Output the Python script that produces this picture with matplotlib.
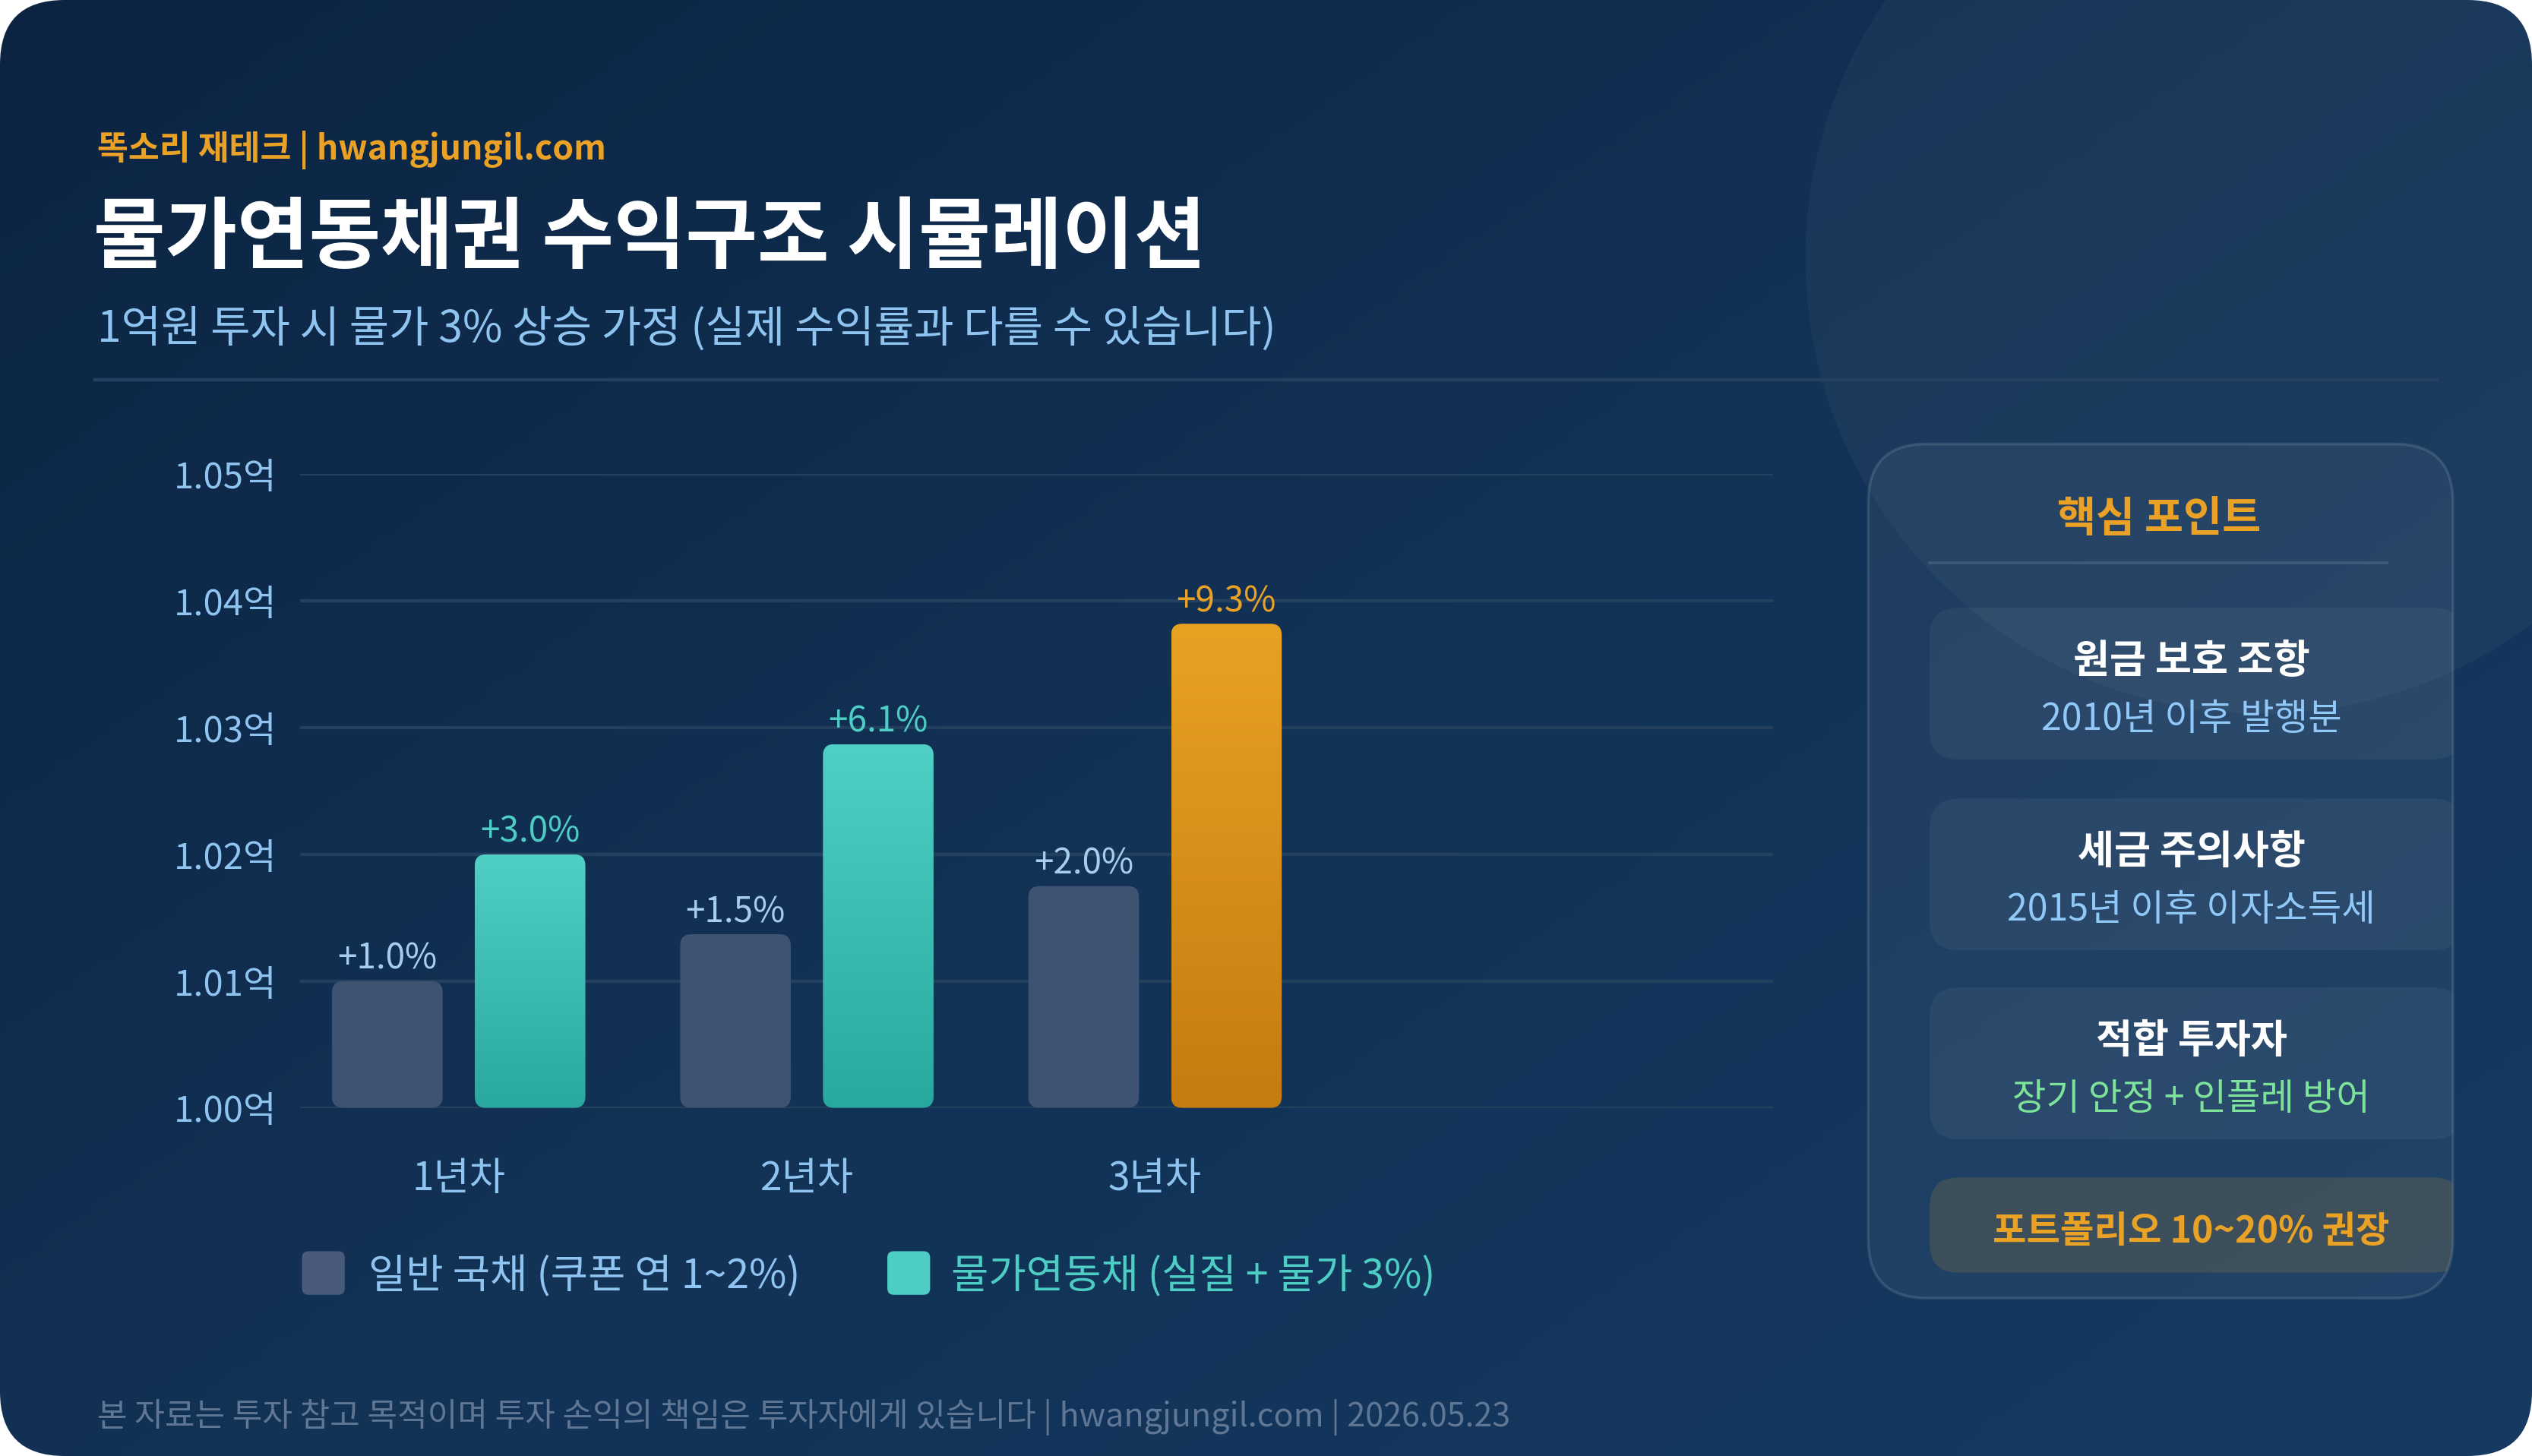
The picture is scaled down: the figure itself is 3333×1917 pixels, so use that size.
import matplotlib.pyplot as plt
import numpy as np
from matplotlib.patches import FancyBboxPatch, Circle
from matplotlib.colors import LinearSegmentedColormap

plt.rcParams['font.family'] = ['Noto Sans CJK KR', 'DejaVu Sans']

# ---- data ----
years = ['1년차', '2년차', '3년차']
normal_bond = [1.0100, 1.0137, 1.0175]
linked_bond = [1.0200, 1.0287, 1.0382]
normal_labels = ['+1.0%', '+1.5%', '+2.0%']
linked_labels = ['+3.0%', '+6.1%', '+9.3%']
yticks = [1.00, 1.01, 1.02, 1.03, 1.04, 1.05]
ytick_labels = ['1.00억', '1.01억', '1.02억', '1.03억', '1.04억', '1.05억']
legend_labels = ['일반 국채 (쿠폰 연 1~2%)', '물가연동채 (실질 + 물가 3%)']
point_titles = ['원금 보호 조항', '세금 주의사항', '적합 투자자']
point_subs = ['2010년 이후 발행분', '2015년 이후 이자소득세', '장기 안정 + 인플레 방어']
point_tip = '포트폴리오 10~20% 권장'

ORANGE = '#eaa226'
LIGHT = '#90c4f0'
TEAL = '#4ecdc4'
LW = 'light'

# layout units: 1568 wide "screen" pixels
W = 1568
H = W * 1917 / 3333

fig = plt.figure(figsize=(16.665, 9.585), dpi=200)
fig.patch.set_facecolor('white')
bg = fig.add_axes([0, 0, 1, 1])
bg.axis('off')

# card background with diagonal gradient
card = FancyBboxPatch((0, 0), W, H, boxstyle='round,pad=0,rounding_size=40',
                      facecolor='none', edgecolor='none')
bg.add_patch(card)
xx, yy = np.meshgrid(np.linspace(0, 1, 300), np.linspace(0, 1, 200))
grad = (xx * 0.55 + yy * 0.45)
bg_cmap = LinearSegmentedColormap.from_list('bg', ['#0c2442', '#123256', '#163a62'])
im = bg.imshow(grad, extent=[0, W, H, 0], cmap=bg_cmap, aspect='auto', zorder=0)
im.set_clip_path(card)

circ = Circle((1400, 160), 282, facecolor='white', alpha=0.035, edgecolor='none', zorder=1)
bg.add_patch(circ)
circ.set_clip_path(card)

bg.set_xlim(0, W)
bg.set_ylim(H, 0)

# header
bg.text(60, 93, '똑소리 재테크 | hwangjungil.com', fontsize=16, fontweight='bold',
        color=ORANGE, va='center', ha='left')
bg.text(58, 148, '물가연동채권 수익구조 시뮬레이션', fontsize=37, fontweight='bold',
        color='white', va='center', ha='left')
bg.text(60, 204, '1억원 투자 시 물가 3% 상승 가정 (실제 수익률과 다를 수 있습니다)',
        fontsize=20.5, fontweight=LW, color=LIGHT, va='center', ha='left')
bg.plot([59, 1509], [235.2, 235.2], color='#243f5f', lw=1.6, zorder=2)

# ---- bar chart ----
ax_left, ax_right, ax_top, ax_bot = 186, 1098, 293.7, 686.2
ax = fig.add_axes([ax_left / W, 1 - ax_bot / H, (ax_right - ax_left) / W, (ax_bot - ax_top) / H])
ax.set_facecolor('none')
xmin, xmax = -0.4548, 3.775
ax.set_xlim(xmin, xmax)
ax.set_ylim(1.0, 1.05)

x = np.arange(len(years))
bw = 0.3177
off = 0.205
base = 1.0
bars_n = ax.bar(x - off, np.array(normal_bond) - base, bottom=base, width=bw)
bars_l = ax.bar(x + off, np.array(linked_bond) - base, bottom=base, width=bw)
for r in list(bars_n) + list(bars_l):
    r.set_visible(False)

xupp = (xmax - xmin) / (ax_right - ax_left)
yupp = 0.05 / (ax_bot - ax_top)
asp = yupp / xupp
rad = 7 * xupp

teal_cmap = LinearSegmentedColormap.from_list('teal', ['#4fcfc5', '#28a89f'])
orng_cmap = LinearSegmentedColormap.from_list('orng', ['#e8a222', '#c47b10'])
vgrad = np.linspace(0, 1, 256).reshape(-1, 1)

for r, lbl in zip(bars_n, normal_labels):
    x0, y0, w, h = r.get_x(), r.get_y(), r.get_width(), r.get_height()
    p = FancyBboxPatch((x0, y0), w, h, boxstyle=f'round,pad=0,rounding_size={rad}',
                       mutation_aspect=asp, facecolor='#3e5272', edgecolor='none', zorder=3)
    ax.add_patch(p)
    ax.annotate(lbl, (x0 + w / 2, y0 + h), xytext=(0, 10.5), textcoords='offset points',
                ha='center', va='center', fontsize=16.5, fontweight=LW, color='#a6cdf0', zorder=4)

for i, (r, lbl) in enumerate(zip(bars_l, linked_labels)):
    x0, y0, w, h = r.get_x(), r.get_y(), r.get_width(), r.get_height()
    cm = orng_cmap if i == len(bars_l) - 1 else teal_cmap
    lc = ORANGE if i == len(bars_l) - 1 else TEAL
    p = FancyBboxPatch((x0, y0), w, h, boxstyle=f'round,pad=0,rounding_size={rad}',
                       mutation_aspect=asp, facecolor='none', edgecolor='none', zorder=3)
    ax.add_patch(p)
    gi = ax.imshow(vgrad, extent=[x0, x0 + w, y0, y0 + h], origin='upper', cmap=cm,
                   aspect='auto', zorder=3)
    gi.set_clip_path(p)
    ax.annotate(lbl, (x0 + w / 2, y0 + h), xytext=(0, 10.5), textcoords='offset points',
                ha='center', va='center', fontsize=16.5, fontweight=LW, color=lc, zorder=4)

ax.set_xlim(xmin, xmax)
ax.set_ylim(1.0, 1.05)
ax.set_yticks(yticks, ytick_labels)
ax.set_xticks(x, years)
ax.yaxis.grid(True, color='#23405f', lw=1.6, zorder=0)
ax.set_axisbelow(True)
for s in ax.spines.values():
    s.set_visible(False)
ax.tick_params(axis='y', length=0, pad=11, labelsize=17)
ax.tick_params(axis='x', length=0, pad=24, labelsize=18.5)
for t in ax.get_xticklabels() + ax.get_yticklabels():
    t.set_color(LIGHT)
    t.set_fontweight(LW)

# legend
leg_items = [(187, '#4a5a7c', LIGHT, 228), (549.5, TEAL, TEAL, 589)]
for (sx, sc, tc, tx), lab in zip(leg_items, legend_labels):
    bg.add_patch(FancyBboxPatch((sx, 775), 26.5, 27, boxstyle='round,pad=0,rounding_size=4',
                                facecolor=sc, edgecolor='none', zorder=3))
    bg.text(tx, 791, lab, fontsize=19.3, fontweight=LW, color=tc, va='center', ha='left', zorder=3)

# footer
bg.text(60, 878, '본 자료는 투자 참고 목적이며 투자 손익의 책임은 투자자에게 있습니다 | hwangjungil.com | 2026.05.23',
        fontsize=15.5, fontweight=LW, color='#5f7794', va='center', ha='left')

# ---- side panel ----
panel = FancyBboxPatch((1157, 275), 362, 529, boxstyle='round,pad=0,rounding_size=36',
                       facecolor=(1, 1, 1, 0.05), edgecolor=(1, 1, 1, 0.12), lw=1.3, zorder=2)
bg.add_patch(panel)
bg.text(1337, 322, '핵심 포인트', fontsize=20, fontweight='bold', color=ORANGE,
        va='center', ha='center', zorder=4)
bg.plot([1195, 1478], [348.6, 348.6], color=(1, 1, 1, 0.12), lw=1.3, zorder=3)

card_tops = [376.4, 494.6, 611.7]
sub_colors = ['#90c8f8', '#90c8f8', '#7ee39a']
for top, t, s, sc in zip(card_tops, point_titles, point_subs, sub_colors):
    cp = FancyBboxPatch((1195, top), 330, 94, boxstyle='round,pad=0,rounding_size=18',
                        facecolor=(1, 1, 1, 0.05), edgecolor='none', zorder=3)
    bg.add_patch(cp)
    cp.set_clip_path(panel)
    bg.text(1357, top + 33, t, fontsize=18.8, fontweight='bold', color='white',
            va='center', ha='center', zorder=4)
    bg.text(1357, top + 69, s, fontsize=17.4, fontweight=LW, color=sc, va='center', ha='center', zorder=4)

tip = FancyBboxPatch((1195, 729.3), 330, 59, boxstyle='round,pad=0,rounding_size=18',
                     facecolor=(0.91, 0.63, 0.13, 0.15), edgecolor='none', zorder=3)
bg.add_patch(tip)
tip.set_clip_path(panel)
bg.text(1357, 763, point_tip, fontsize=17.4, fontweight='bold', color=ORANGE,
        va='center', ha='center', zorder=4)

fig.savefig('out.png', dpi=200, facecolor='white')
